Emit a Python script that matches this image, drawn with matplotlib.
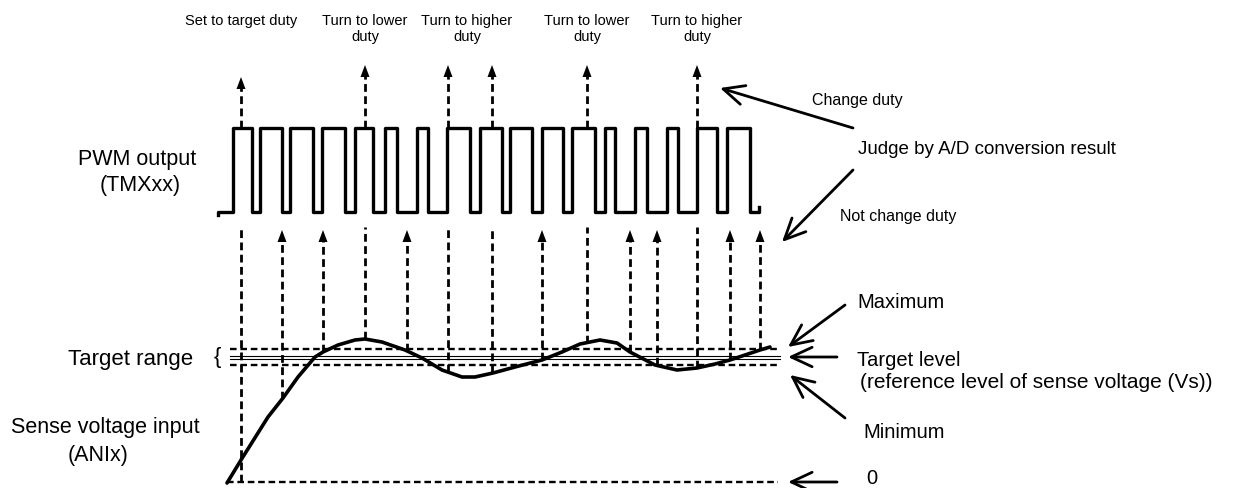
import numpy as np
import matplotlib
matplotlib.use('Agg')
from matplotlib import pyplot as plt

plt.rcParams['font.family'] = ['Liberation Sans', 'DejaVu Sans']

# PWM output edges (x positions of rising / falling edges)
pwm_rise = [233, 260, 290, 322, 355, 385, 417, 447, 480, 510, 542, 572, 605, 635, 667, 697, 727]
pwm_fall = [252, 282, 313, 345, 373, 397, 428, 470, 502, 532, 563, 595, 615, 647, 678, 717, 750]
pwm_start, pwm_end = 218, 759
pwm_high, pwm_low = 128, 212

# A/D sampling instants and whether the duty was changed
samples = [241, 282, 323, 365, 407, 448, 492, 542, 587, 630, 657, 697, 730, 760]
changed = [True, False, False, True, False, True, True, False, True, False, False, True, False, False]

# sense voltage curve
curve_x = [227, 241, 268, 283, 298, 315, 323, 338, 355, 365, 382, 405, 422, 442, 462, 475,
           493, 515, 542, 562, 580, 600, 617, 630, 655, 677, 697, 715, 730, 760, 770]
curve_y = [483, 460, 417, 398, 377, 357, 352, 345, 340, 339, 342, 350, 358, 370, 377, 377,
           373, 367, 360, 352, 344, 340, 343, 352, 365, 370, 368, 364, 360, 350, 347]

level_max, level_target, level_min, level_zero = 349, 357, 365, 482

top_labels = ['Set to target duty', 'Turn to lower\nduty', 'Turn to higher\nduty',
              'Turn to lower\nduty', 'Turn to higher\nduty']
top_label_x = [241, 365, 467, 587, 697]

fig = plt.figure(figsize=(12.52, 4.88), dpi=100)
ax = fig.add_axes([0, 0, 1, 1])
ax.set_xlim(0, 1252)
ax.set_ylim(488, 0)
ax.axis('off')

dash = (0, (2.8, 1.6))

# PWM waveform
px = [pwm_start]
py = [pwm_low + 3]
px.append(pwm_start); py.append(pwm_low)
for r, f in zip(pwm_rise, pwm_fall):
    px += [r, r, f, f]
    py += [pwm_low, pwm_high, pwm_high, pwm_low]
px += [pwm_end, pwm_end]
py += [pwm_low, pwm_low - 5]
ax.plot(px, py, color='black', lw=2.4, solid_joinstyle='round')

def arrow_head(x, tip):
    ax.fill([x - 4.5, x + 4.5, x], [tip + 12, tip + 12, tip], color='black', lw=0)

# sampling lines
for i, (s, c) in enumerate(zip(samples, changed)):
    bottom = level_zero if i == 0 else np.interp(s, curve_x, curve_y)
    if c:
        ax.plot([s, s], [bottom, 227], color='black', lw=2.0, ls=dash)
        tip = 77 if i == 0 else 65
        ax.plot([s, s], [pwm_high, tip + 10], color='black', lw=2.0, ls=dash)
        arrow_head(s, tip)
    else:
        ax.plot([s, s], [bottom, 241], color='black', lw=2.0, ls=dash)
        arrow_head(s, 230)

# target range lines
ax.plot([230, 780], [level_max, level_max], color='black', lw=1.7, ls=dash)
ax.plot([230, 780], [level_min, level_min], color='black', lw=1.7, ls=dash)
ax.plot([230, 780], [level_target - 1.5, level_target - 1.5], color='black', lw=0.8)
ax.plot([230, 780], [level_target + 1.5, level_target + 1.5], color='black', lw=0.8)
ax.plot([227, 778], [level_zero, level_zero], color='black', lw=1.7, ls=dash)

# sense voltage
ax.plot(curve_x, curve_y, color='black', lw=2.6, solid_capstyle='round',
        solid_joinstyle='round')

# labels on top
for lab, x in zip(top_labels, top_label_x):
    ax.text(x, 14, lab, ha='center', va='top', fontsize=10.5, linespacing=1.15)

# left labels
ax.text(137, 159, 'PWM output', ha='center', va='center', fontsize=15.5)
ax.text(140, 186, '(TMXxx)', ha='center', va='center', fontsize=15.5)
ax.text(193, 359, 'Target range', ha='right', va='center', fontsize=16)
ax.text(217, 357, '{', ha='center', va='center', fontsize=16, fontweight='light')
ax.text(105, 427, 'Sense voltage input', ha='center', va='center', fontsize=15.5)
ax.text(98, 455, '(ANIx)', ha='center', va='center', fontsize=15.5)

# right side annotations
arr = dict(arrowstyle='->,head_length=1.5,head_width=0.7', lw=2.0, color='black',
           shrinkA=0, shrinkB=0)
ax.annotate('', xy=(720, 88), xytext=(853, 128), arrowprops=arr)
ax.annotate('', xy=(782, 242), xytext=(853, 170), arrowprops=arr)
ax.annotate('', xy=(788, 347), xytext=(845, 305), arrowprops=arr)
ax.annotate('', xy=(788, level_target), xytext=(837, level_target), arrowprops=arr)
ax.annotate('', xy=(790, 375), xytext=(845, 418), arrowprops=arr)
ax.annotate('', xy=(788, level_zero), xytext=(837, level_zero), arrowprops=arr)

ax.text(812, 100, 'Change duty', ha='left', va='center', fontsize=11.5)
ax.text(858, 150, 'Judge by A/D conversion result', ha='left', va='center', fontsize=13.5)
ax.text(840, 217, 'Not change duty', ha='left', va='center', fontsize=11.5)
ax.text(857, 302, 'Maximum', ha='left', va='center', fontsize=14.5)
ax.text(857, 360, 'Target level', ha='left', va='center', fontsize=14.5)
ax.text(860, 382, '(reference level of sense voltage (Vs))', ha='left', va='center',
        fontsize=15)
ax.text(863, 433, 'Minimum', ha='left', va='center', fontsize=14.5)
ax.text(866, 478, '0', ha='left', va='center', fontsize=14.5)

fig.savefig('out.png', dpi=100)
